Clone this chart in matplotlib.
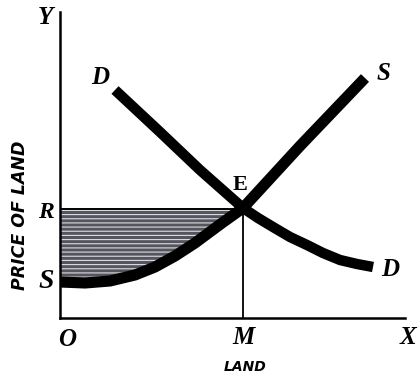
import numpy as np
import matplotlib
matplotlib.use("Agg")
import matplotlib.pyplot as plt

# curve points (origin at O)
supplyX = [0, 25, 50, 75, 95, 115, 135, 162, 183, 240, 305]
supplyY = [36, 35, 37, 43, 51, 62, 75, 95, 110, 172, 240]
demandX = [55, 100, 140, 183, 198, 213, 230, 247, 263, 280, 297, 313]
demandY = [228, 186, 148, 110, 100, 91, 81, 73, 65, 58, 54, 51]
eqX, eqY = 183, 110
rentLevel = 108

plt.rcParams["hatch.linewidth"] = 0.8

fig = plt.figure(figsize=(4.19, 3.78), dpi=100)
ax = fig.add_axes([60/419, 60/378, 345/419, 306/378])
ax.set_xlim(0, 345)
ax.set_ylim(0, 306)
for side in ["top", "right"]:
    ax.spines[side].set_visible(False)
for side in ["left", "bottom"]:
    ax.spines[side].set_linewidth(1.8)
ax.set_xticks([]); ax.set_yticks([])

# shaded surplus area between R line and supply curve
xs = np.linspace(0, eqX, 200)
ys = np.interp(xs, supplyX, supplyY)
ax.fill_between(xs, ys, rentLevel, facecolor="#55555d", edgecolor="#dcdce6",
                hatch="----", linewidth=0, zorder=1)
ax.plot([0, eqX], [rentLevel + 1, rentLevel + 1], color="black", lw=1.4, zorder=2)
ax.plot([eqX, eqX], [0, eqY], color="black", lw=1.3, zorder=2)

ax.plot(supplyX, supplyY, color="black", lw=8, solid_capstyle="butt",
        solid_joinstyle="round", zorder=3)
ax.plot(demandX, demandY, color="black", lw=7.5, solid_capstyle="butt",
        solid_joinstyle="round", zorder=3)

serif = dict(family="Liberation Serif", style="italic", weight="bold",
             clip_on=False, ha="center", va="center")
ax.text(-15, 300, "Y", fontsize=18, **serif)
ax.text(40, 241, "D", fontsize=18, **serif)
ax.text(323, 245, "S", fontsize=18, **serif)
ax.text(330, 48, "D", fontsize=18, **serif)
ax.text(-14, 105, "R", fontsize=17, **serif)
ax.text(-14, 36, "S", fontsize=20, **serif)
ax.text(7, -21, "O", fontsize=18, **serif)
ax.text(183, -20, "M", fontsize=18, **serif)
ax.text(348, -19, "X", fontsize=18, **serif)
ax.text(180, 133, "E", fontsize=16, family="Liberation Serif", weight="bold",
        ha="center", va="center")

ax.text(-40, 103, "PRICE OF LAND", fontsize=12.5, rotation=90, style="italic",
        weight="bold", family="DejaVu Sans", ha="center", va="center",
        clip_on=False)
ax.text(185, -49, "LAND", fontsize=10, style="italic", weight="bold",
        family="DejaVu Sans", ha="center", va="center", clip_on=False)

fig.savefig("out.png", dpi=100)
